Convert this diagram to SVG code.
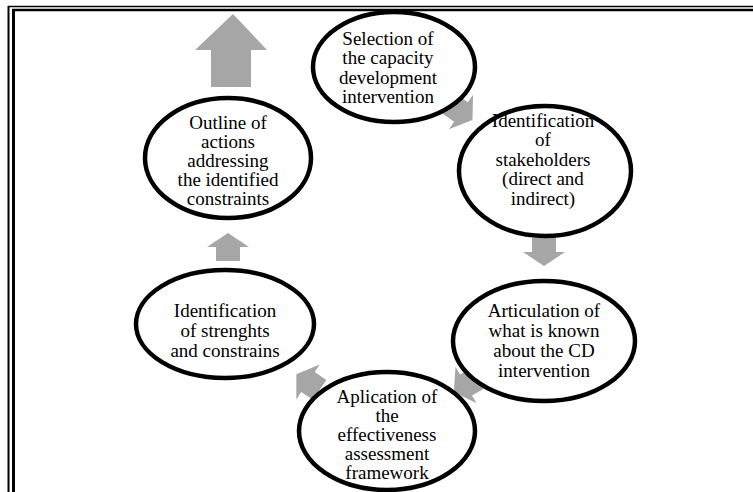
<svg xmlns="http://www.w3.org/2000/svg" width="753" height="492" viewBox="0 0 753 492">
<style>
.node ellipse{fill:#fff;stroke:#000;stroke-width:4.5}
.node text{font-family:"Liberation Serif","Times New Roman",serif;font-size:19px;fill:#000;text-anchor:middle}
.arr{fill:#a6a6a6}
.frame{stroke:#000;fill:none}
</style>
<defs>
<path id="sa" d="M-14,-12 L0,-12 L0,-21 L14,0 L0,21 L0,12 L-14,12 Z"/>
</defs>
<rect width="753" height="492" fill="#fff"/>
<g id="frame">
<line class="frame" x1="8.5" y1="6" x2="8.5" y2="492" stroke-width="2"/>
<line class="frame" x1="13.5" y1="10" x2="13.5" y2="492" stroke-width="3"/>
<line class="frame" x1="8" y1="6.5" x2="753" y2="6.5" stroke-width="1.5"/>
<line class="frame" x1="12" y1="10" x2="753" y2="10" stroke-width="2.5"/>
</g>
<g id="connectors">
<path class="arr" d="M233,14 L267,50 L251,50 L251,87 L211,87 L211,50 L195,50 Z"/>
<use href="#sa" class="arr" transform="translate(461,112) rotate(35)"/>
<use href="#sa" class="arr" transform="translate(544,252) rotate(90)"/>
<use href="#sa" class="arr" transform="translate(466,385) rotate(150)"/>
<use href="#sa" class="arr" transform="translate(308,382) rotate(214)"/>
<use href="#sa" class="arr" transform="translate(228,247) rotate(-90)"/>
</g>
<g id="n1" class="node">
<ellipse cx="394" cy="67" rx="81" ry="55"/>
<text x="388" y="45">Selection of</text>
<text x="388" y="64">the capacity</text>
<text x="388" y="84">development</text>
<text x="388" y="103">intervention</text>
</g>
<g id="n2" class="node">
<ellipse cx="545" cy="171" rx="86" ry="65"/>
<text x="543" y="127">Identification</text>
<text x="543" y="146">of</text>
<text x="543" y="166">stakeholders</text>
<text x="543" y="185">(direct and</text>
<text x="543" y="205">indirect)</text>
</g>
<g id="n3" class="node">
<ellipse cx="544" cy="341" rx="91" ry="60"/>
<text x="544" y="317">Articulation of</text>
<text x="544" y="337">what is known</text>
<text x="544" y="357">about the CD</text>
<text x="544" y="377">intervention</text>
</g>
<g id="n4" class="node">
<ellipse cx="387" cy="431" rx="88" ry="59"/>
<text x="387" y="403">Aplication of</text>
<text x="387" y="422">the</text>
<text x="387" y="441">effectiveness</text>
<text x="387" y="460">assessment</text>
<text x="387" y="479">framework</text>
</g>
<g id="n5" class="node">
<ellipse cx="225" cy="324" rx="89" ry="54"/>
<text x="225" y="317">Identification</text>
<text x="225" y="337">of strenghts</text>
<text x="225" y="357">and constrains</text>
</g>
<g id="n6" class="node">
<ellipse cx="228" cy="158" rx="83" ry="60"/>
<text x="228" y="129">Outline of</text>
<text x="228" y="148">actions</text>
<text x="228" y="167">addressing</text>
<text x="228" y="186">the identified</text>
<text x="228" y="205">constraints</text>
</g>
</svg>
